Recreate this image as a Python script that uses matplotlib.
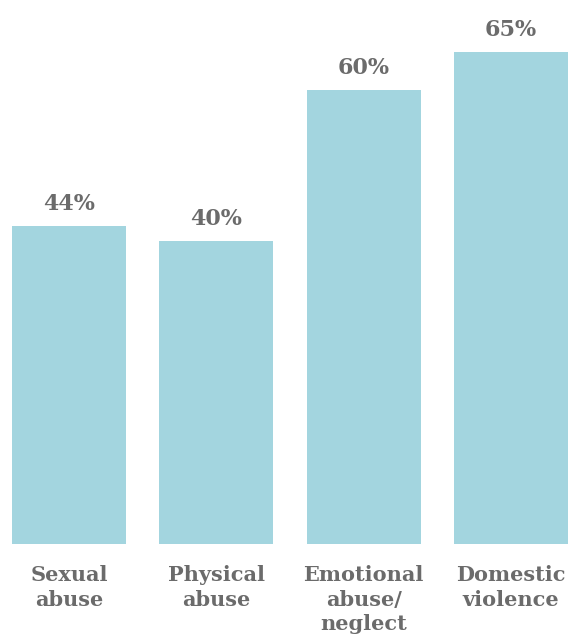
import matplotlib.pyplot as plt

categories = ['Sexual\nabuse', 'Physical\nabuse', 'Emotional\nabuse/\nneglect', 'Domestic\nviolence']
values = [42, 40, 60, 65]
labels = ['44%', '40%', '60%', '65%']

bar_color = '#a3d5df'
text_color = '#6b6b6b'
font = ['DejaVu Serif']

fig = plt.figure(figsize=(5.69, 6.38), dpi=100)
ax = fig.add_axes([12 / 569, 94 / 638, 556 / 569, 492 / 638])

x = range(len(values))
bars = ax.bar(x, values, width=0.773, color=bar_color)

ax.set_xlim(-0.3865, 3.3865)
ax.set_ylim(0, 65)
ax.axis('off')

for b, lab in zip(bars, labels):
    ax.annotate(lab, (b.get_x() + b.get_width() / 2, b.get_height()),
                xytext=(0, 8), textcoords='offset points',
                ha='center', va='bottom', fontsize=16, fontweight='bold',
                color=text_color, family=font, annotation_clip=False)

for i, cat in enumerate(categories):
    ax.annotate(cat, (i, 0), xytext=(0, -15), textcoords='offset points',
                ha='center', va='top', fontsize=15, fontweight='bold',
                color=text_color, family=font, linespacing=1.3,
                annotation_clip=False)

fig.savefig('out.png', dpi=100)
